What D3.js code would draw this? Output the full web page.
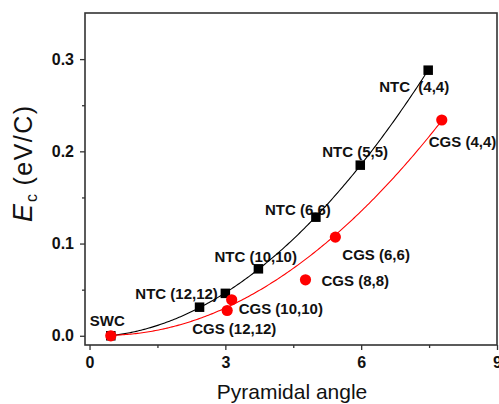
<!DOCTYPE html>
<html>
<head>
<meta charset="utf-8">
<script src="https://cdn.jsdelivr.net/npm/d3@7/dist/d3.min.js"></script>
<style>
  html, body { margin: 0; padding: 0; background: #fff; }
  svg { display: block; font-family: "Liberation Sans", Arial, Helvetica, sans-serif; }
</style>
</head>
<body>
<svg id="chart" width="499" height="404"></svg>
<script>
// NTC series (black squares)
const ntcAngle = [0.47, 2.43, 3.00, 3.73, 5.00, 5.98, 7.48];
const ntcEc    = [0.000, 0.031, 0.046, 0.0726, 0.1286, 0.185, 0.288];
const ntcLabels = ["SWC", "", "NTC (12,12)", "NTC (10,10)", "NTC (6,6)", "NTC (5,5)", "NTC  (4,4)"];

// CGS series (red circles)
const cgsAngle = [0.47, 3.04, 3.14, 4.77, 5.43, 7.78];
const cgsEc    = [0.000, 0.0274, 0.039, 0.0607, 0.107, 0.234];
const cgsLabels = ["", "CGS (12,12)", "CGS (10,10)", "CGS (8,8)", "CGS (6,6)", "CGS (4,4)"];
const cgsInFit  = [true, true, true, false, true, true];

// Axis ticks
const xTicks = [0, 3, 6, 9];
const xMinorTicks = [1.5, 4.5, 7.5];
const yTicks = [0.0, 0.1, 0.2, 0.3];
const yMinorTicks = [0.05, 0.15, 0.25];

// Label placement relative to its point (pixels: start x, baseline y)
const labelOffset = {
  "SWC": [-21, -10],
  "NTC (12,12)": [-90, 6],
  "NTC (10,10)": [-44, -7],
  "NTC (6,6)": [-51, -2],
  "NTC (5,5)": [-38, -8],
  "NTC  (4,4)": [-49, 22],
  "CGS (12,12)": [-35, 23],
  "CGS (10,10)": [7, 14],
  "CGS (8,8)": [16, 6],
  "CGS (6,6)": [7, 23],
  "CGS (4,4)": [-13, 27]
};

const svg = d3.select("#chart");
const plotL = 85, plotR = 497, plotT = 13, plotB = 345;
const x = d3.scaleLinear().domain([-0.1, 9]).range([plotL, plotR]);
const y = d3.scaleLinear().domain([-0.01, 0.35]).range([plotB, plotT]);
const frameColor = "#333";

// Least-squares quadratic fit y = a + b x + c x^2
function quadFit(xs, ys) {
  const S = [0, 0, 0, 0, 0], T = [0, 0, 0];
  xs.forEach((xv, i) => {
    for (let k = 0; k < 5; k++) S[k] += Math.pow(xv, k);
    for (let k = 0; k < 3; k++) T[k] += ys[i] * Math.pow(xv, k);
  });
  const M = [[S[0], S[1], S[2], T[0]], [S[1], S[2], S[3], T[1]], [S[2], S[3], S[4], T[2]]];
  for (let i = 0; i < 3; i++) {
    let p = i;
    for (let r = i + 1; r < 3; r++) if (Math.abs(M[r][i]) > Math.abs(M[p][i])) p = r;
    [M[i], M[p]] = [M[p], M[i]];
    for (let r = 0; r < 3; r++) {
      if (r === i) continue;
      const f = M[r][i] / M[i][i];
      for (let c = i; c < 4; c++) M[r][c] -= f * M[i][c];
    }
  }
  const coef = [M[0][3] / M[0][0], M[1][3] / M[1][1], M[2][3] / M[2][2]];
  return xv => coef[0] + coef[1] * xv + coef[2] * xv * xv;
}

const ntcFit = quadFit(ntcAngle, ntcEc);
const cgsFit = quadFit(cgsAngle.filter((_, i) => cgsInFit[i]), cgsEc.filter((_, i) => cgsInFit[i]));

// Axes
const xAxis = d3.axisBottom(x).tickValues(xTicks).tickFormat(d3.format("d")).tickSize(5).tickPadding(7);
const gx = svg.append("g").attr("transform", `translate(0,${plotB})`).call(xAxis);
const xMinor = d3.axisBottom(x).tickValues(xMinorTicks).tickFormat("").tickSize(3);
const gxm = svg.append("g").attr("transform", `translate(0,${plotB})`).call(xMinor);

const yAxis = d3.axisLeft(y).tickValues(yTicks).tickFormat(d3.format(".1f")).tickSize(5).tickPadding(6);
const gy = svg.append("g").attr("transform", `translate(${plotL},0)`).call(yAxis);
const yMinor = d3.axisLeft(y).tickValues(yMinorTicks).tickFormat("").tickSize(3);
const gym = svg.append("g").attr("transform", `translate(${plotL},0)`).call(yMinor);

[gx, gxm, gy, gym].forEach(g => {
  g.select(".domain").remove();
  g.selectAll(".tick line").attr("stroke", frameColor).attr("stroke-width", 1.3);
  g.selectAll(".tick text")
    .attr("fill", "#111")
    .attr("font-family", "'Liberation Sans', Arial, sans-serif")
    .attr("font-size", 16)
    .attr("font-weight", "bold");
});

// Frame
svg.append("rect")
  .attr("x", plotL).attr("y", plotT)
  .attr("width", plotR - plotL).attr("height", plotB - plotT)
  .attr("fill", "none").attr("stroke", frameColor).attr("stroke-width", 1.6);

// Axis titles
svg.append("text")
  .attr("x", (plotL + plotR) / 2 + 1).attr("y", 399)
  .attr("text-anchor", "middle")
  .attr("font-size", 21).attr("fill", "#111")
  .text("Pyramidal angle");

const yTitle = svg.append("text")
  .attr("transform", "translate(32,222) rotate(-90)")
  .attr("text-anchor", "start")
  .attr("font-size", 25).attr("fill", "#111");
yTitle.append("tspan").attr("font-style", "italic").attr("font-size", 27).text("E");
yTitle.append("tspan").attr("font-size", 16).attr("dy", 5).attr("dx", 2).text("c");
yTitle.append("tspan").attr("dy", -5).attr("letter-spacing", 1.5).text(" (eV/C)");

// Point labels
function addLabels(xs, ys, labels) {
  labels.forEach((t, i) => {
    if (!t) return;
    const off = labelOffset[t];
    svg.append("text")
      .attr("x", x(xs[i]) + off[0]).attr("y", y(ys[i]) + off[1])
      .attr("font-size", 15).attr("font-weight", "bold").attr("fill", "#111")
      .style("white-space", "pre")
      .text(t);
  });
}
addLabels(ntcAngle, ntcEc, ntcLabels);
addLabels(cgsAngle, cgsEc, cgsLabels);

// Fitted curves
function drawFit(fn, xs, color) {
  const x0 = d3.min(xs), x1 = d3.max(xs);
  const pts = d3.range(0, 201).map(k => x0 + (x1 - x0) * k / 200);
  svg.append("path")
    .datum(pts)
    .attr("fill", "none").attr("stroke", color).attr("stroke-width", 1.1)
    .attr("d", d3.line().x(d => x(d)).y(d => y(fn(d))));
}
drawFit(ntcFit, ntcAngle, "#000");
drawFit(cgsFit, cgsAngle, "#ff0000");

// Markers
const sq = 9.5;
svg.append("g").selectAll("rect").data(ntcAngle).join("rect")
  .attr("x", d => x(d) - sq / 2).attr("y", (d, i) => y(ntcEc[i]) - sq / 2)
  .attr("width", sq).attr("height", sq).attr("fill", "#000");

svg.append("g").selectAll("circle").data(cgsAngle).join("circle")
  .attr("cx", d => x(d)).attr("cy", (d, i) => y(cgsEc[i]))
  .attr("r", 5.6).attr("fill", "#ff0000");
</script>
</body>
</html>
